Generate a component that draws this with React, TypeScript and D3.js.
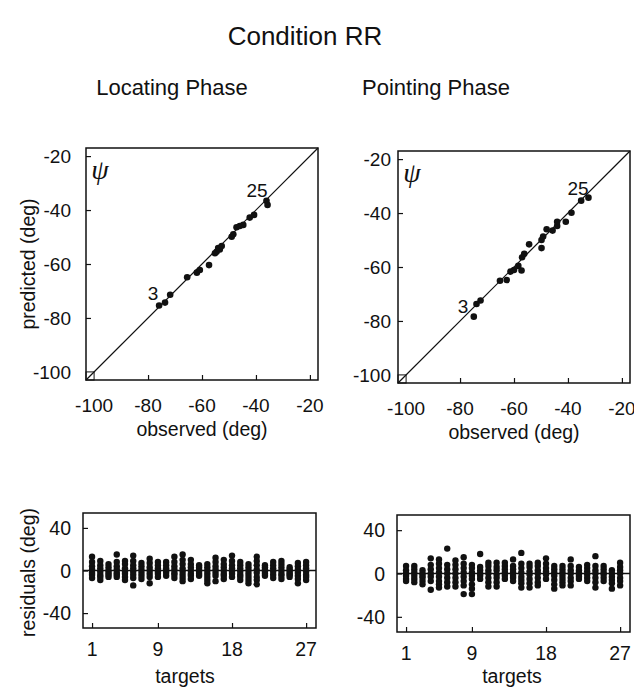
import React, { useRef, useEffect } from 'react';
import * as d3 from 'd3';

// scatter: observed vs predicted azimuth (deg)
const locObserved = [-75.9, -73.7, -71.8, -65.5, -61.9, -60.8, -57.4, -55.2, -54.6, -54.0, -53.4, -52.7, -49.0, -48.4, -47.2, -46.0, -44.7, -42.3, -40.7, -36.1, -35.7];
const locPredicted = [-75.4, -74.3, -71.4, -64.9, -63.2, -62.2, -60.4, -56.0, -55.5, -54.1, -54.6, -53.3, -49.9, -49.0, -46.4, -45.9, -45.5, -42.8, -41.8, -36.6, -38.1];

const pntObserved = [-74.9, -73.9, -72.4, -65.2, -62.7, -61.3, -60.0, -58.4, -57.2, -57.0, -56.2, -54.4, -49.8, -49.8, -49.2, -47.9, -45.7, -44.0, -44.0, -40.8, -38.7, -35.1, -32.4];
const pntPredicted = [-78.4, -73.7, -72.4, -65.1, -64.8, -61.7, -61.1, -59.6, -61.3, -56.4, -55.1, -51.6, -53.0, -50.0, -48.7, -46.0, -46.5, -44.8, -43.2, -43.2, -39.9, -35.4, -34.3];

const scatterTicks = [-100, -80, -60, -40, -20];
const targetTicks = [1, 9, 18, 27];
const residualTicks = [40, 0, -40];

// residuals per target (1..27)
const locResiduals = [
  [13, 8, 4, 1, -2, -4, -7],
  [9, 5, 2, -1, -4, -6, -9],
  [6, 3, 0, -2, -4, -6],
  [15, 8, 4, 1, -2, -4, -6],
  [9, 6, 2, -1, -3, -6, -9],
  [14, 9, 5, 2, -1, -4, -7, -14],
  [7, 4, 1, -2, -5, -8],
  [11, 7, 3, 0, -3, -6, -12],
  [8, 5, 2, -1, -3, -6],
  [8, 5, 2, 0, -2, -5],
  [13, 8, 4, 1, -2, -4, -7],
  [15, 10, 6, 2, -1, -4, -7, -10],
  [10, 6, 3, 0, -3, -5, -8],
  [5, 3, 1, -1, -3, -5],
  [6, 3, 0, -3, -6, -9, -12],
  [12, 8, 4, 1, -2, -5, -10],
  [10, 6, 3, 0, -3, -5, -8],
  [14, 9, 5, 2, -1, -3, -6],
  [8, 5, 2, -1, -4, -6, -9],
  [6, 3, 0, -3, -6, -9, -12],
  [13, 9, 5, 1, -2, -6, -9, -13],
  [5, 3, 1, -1, -3, -5],
  [8, 5, 2, -1, -4, -7],
  [9, 6, 3, 0, -3, -5, -8],
  [3, 1, -1, -3, -4, -6],
  [7, 4, 1, -2, -5, -8, -12],
  [8, 5, 2, -1, -4, -6, -9],
];

const pntResiduals = [
  [7, 3, 0, -2, -5, -7],
  [7, 4, 1, -2, -5, -8],
  [3, 0, -2, -4, -7, -10],
  [14, 8, 4, 0, -3, -7, -15],
  [13, 9, 5, 1, -3, -7, -10, -13],
  [23, 8, 4, 0, -4, -8, -12],
  [12, 8, 4, 0, -4, -8, -12],
  [15, 9, 5, 1, -3, -7, -11, -19],
  [8, 5, 1, -2, -5, -10, -14, -19],
  [18, 6, 3, 0, -2, -5],
  [10, 7, 3, 0, -4, -8, -12],
  [10, 6, 3, -1, -4, -8, -12],
  [10, 7, 4, 1, -2, -5],
  [13, 7, 4, 1, -2, -4, -7],
  [19, 9, 5, 1, -3, -6, -9, -13],
  [9, 6, 2, -1, -5, -9, -13],
  [10, 7, 3, 0, -4, -8, -11],
  [14, 9, 5, 2, -1, -5],
  [7, 4, 1, -2, -6, -10, -14],
  [7, 4, 1, -2, -5, -8, -11],
  [13, 7, 3, 0, -4, -7, -11],
  [6, 3, 1, -1, -3, -5],
  [8, 5, 2, -1, -4, -7],
  [16, 7, 3, 0, -4, -8, -13],
  [7, 4, 1, -1, -4, -7],
  [3, 0, -3, -6, -9, -14],
  [10, 6, 3, 0, -4, -7, -11],
];

const FONT = '"Liberation Sans", Arial, Helvetica, sans-serif';

function App() {
  const ref = useRef<SVGSVGElement>(null);

  useEffect(() => {
    const svg = d3.select(ref.current);
    svg.selectAll('*').remove();

    svg.append('rect').attr('width', 634).attr('height', 688).attr('fill', '#fff');

    const text = (x: number, y: number, s: string, size: number, anchor = 'middle') =>
      svg.append('text')
        .attr('x', x).attr('y', y)
        .attr('font-family', FONT)
        .attr('font-size', size)
        .attr('text-anchor', anchor)
        .attr('fill', '#111')
        .text(s);

    const vtext = (x: number, y: number, s: string, size: number) =>
      svg.append('text')
        .attr('transform', 'translate(' + x + ',' + y + ') rotate(-90)')
        .attr('font-family', FONT)
        .attr('font-size', size)
        .attr('text-anchor', 'middle')
        .attr('fill', '#111')
        .text(s);

    text(305, 45, 'Condition RR', 26);
    text(172, 95, 'Locating Phase', 22);
    text(436, 95, 'Pointing Phase', 22);

    // --- scatter panels ---
    const scatterPanels = [
      { left: 86, top: 148, gap: 15, obs: locObserved, pred: locPredicted, yLabel: true, lab3: [153, 300], lab25: [257, 197] },
      { left: 398, top: 151, gap: 7, obs: pntObserved, pred: pntPredicted, yLabel: false, lab3: [463, 313], lab25: [578, 195] },
    ];
    const size = 232;

    scatterPanels.forEach(p => {
      const x = d3.scaleLinear().domain([-103, -17]).range([p.left, p.left + size]);
      const y = d3.scaleLinear().domain([-103, -17]).range([p.top + size, p.top]);

      const g = svg.append('g');

      // inward ticks
      g.append('g')
        .attr('transform', 'translate(0,' + (p.top + size) + ')')
        .call(d3.axisTop(x).tickValues(scatterTicks.slice(1)).tickSize(5).tickFormat(() => ''))
        .call(a => a.select('.domain').remove());
      g.append('g')
        .attr('transform', 'translate(' + p.left + ',0)')
        .call(d3.axisRight(y).tickValues(scatterTicks.slice(1)).tickSize(5).tickFormat(() => ''))
        .call(a => a.select('.domain').remove());
      g.selectAll('.tick line').attr('stroke', '#111').attr('stroke-width', 1.2);

      scatterTicks.forEach(t => {
        text(x(t), p.top + size + 32, String(t), 19);
        text(p.left - p.gap, y(t) + 7, String(t), 19, 'end');
      });

      g.append('rect')
        .attr('x', p.left).attr('y', p.top)
        .attr('width', size).attr('height', size)
        .attr('fill', 'none').attr('stroke', '#111').attr('stroke-width', 1.5);

      // small corner square and identity line
      g.append('rect')
        .attr('x', x(-103)).attr('y', y(-100))
        .attr('width', x(-100) - x(-103)).attr('height', y(-103) - y(-100))
        .attr('fill', 'none').attr('stroke', '#111').attr('stroke-width', 1);
      g.append('line')
        .attr('x1', x(-103)).attr('y1', y(-103))
        .attr('x2', x(-17)).attr('y2', y(-17))
        .attr('stroke', '#111').attr('stroke-width', 1.2);

      g.selectAll('circle.pt')
        .data(p.obs.map((o, i) => [o, p.pred[i]]))
        .enter().append('circle')
        .attr('cx', d => x(d[0]))
        .attr('cy', d => y(d[1]))
        .attr('r', 3.3)
        .attr('fill', '#111');

      text(p.lab3[0], p.lab3[1], '3', 19);
      text(p.lab25[0], p.lab25[1], '25', 19);

      svg.append('text')
        .attr('x', p.left + 14).attr('y', p.top + 31)
        .attr('font-family', '"Liberation Serif", "DejaVu Serif", serif')
        .attr('font-style', 'italic')
        .attr('font-size', 28)
        .attr('text-anchor', 'middle')
        .attr('fill', '#111')
        .text('ψ');

      text(p.left + size / 2, p.top + size + 56, 'observed (deg)', 19.5);
      if (p.yLabel) vtext(35, p.top + size / 2, 'predicted (deg)', 19.5);
    });

    // --- residual panels ---
    const residPanels = [
      { left: 83, top: 513, w: 233, h: 115, data: locResiduals, yLabel: true, titleX: 185 },
      { left: 397, top: 515, w: 233, h: 117, data: pntResiduals, yLabel: false, titleX: 512 },
    ];

    residPanels.forEach(p => {
      const x = d3.scaleLinear().domain([-0.1, 28.2]).range([p.left, p.left + p.w]);
      const y = d3.scaleLinear().domain([-54, 54]).range([p.top + p.h, p.top]);
      const g = svg.append('g');

      g.append('g')
        .attr('transform', 'translate(0,' + (p.top + p.h) + ')')
        .call(d3.axisTop(x).tickValues(targetTicks).tickSize(5).tickFormat(() => ''))
        .call(a => a.select('.domain').remove());
      g.append('g')
        .attr('transform', 'translate(' + p.left + ',0)')
        .call(d3.axisRight(y).tickValues(residualTicks).tickSize(5).tickFormat(() => ''))
        .call(a => a.select('.domain').remove());
      g.selectAll('.tick line').attr('stroke', '#111').attr('stroke-width', 1.2);

      targetTicks.forEach(t => text(x(t), p.top + p.h + 28, String(t), 19.5));
      residualTicks.forEach(t => text(p.left - 12, y(t) + 7, String(t), 19.5, 'end'));

      g.append('rect')
        .attr('x', p.left).attr('y', p.top)
        .attr('width', p.w).attr('height', p.h)
        .attr('fill', 'none').attr('stroke', '#111').attr('stroke-width', 1.5);

      g.append('line')
        .attr('x1', p.left).attr('x2', p.left + p.w)
        .attr('y1', y(0)).attr('y2', y(0))
        .attr('stroke', '#111').attr('stroke-width', 1.5);

      const pts: [number, number][] = [];
      p.data.forEach((vals, i) => vals.forEach(v => pts.push([i + 1, v])));
      g.selectAll('circle.r')
        .data(pts)
        .enter().append('circle')
        .attr('cx', d => x(d[0]))
        .attr('cy', d => y(d[1]))
        .attr('r', 3.2)
        .attr('fill', '#111');

      text(p.titleX, 683, 'targets', 19.5);
      if (p.yLabel) vtext(35, p.top + p.h / 2 + 2, 'residuals (deg)', 19.5);
    });
  }, []);

  return (
    <svg ref={ref} width={634} height={688}
      style={{ position: 'absolute', left: 0, top: 0, display: 'block' }} />
  );
}

export default App;
